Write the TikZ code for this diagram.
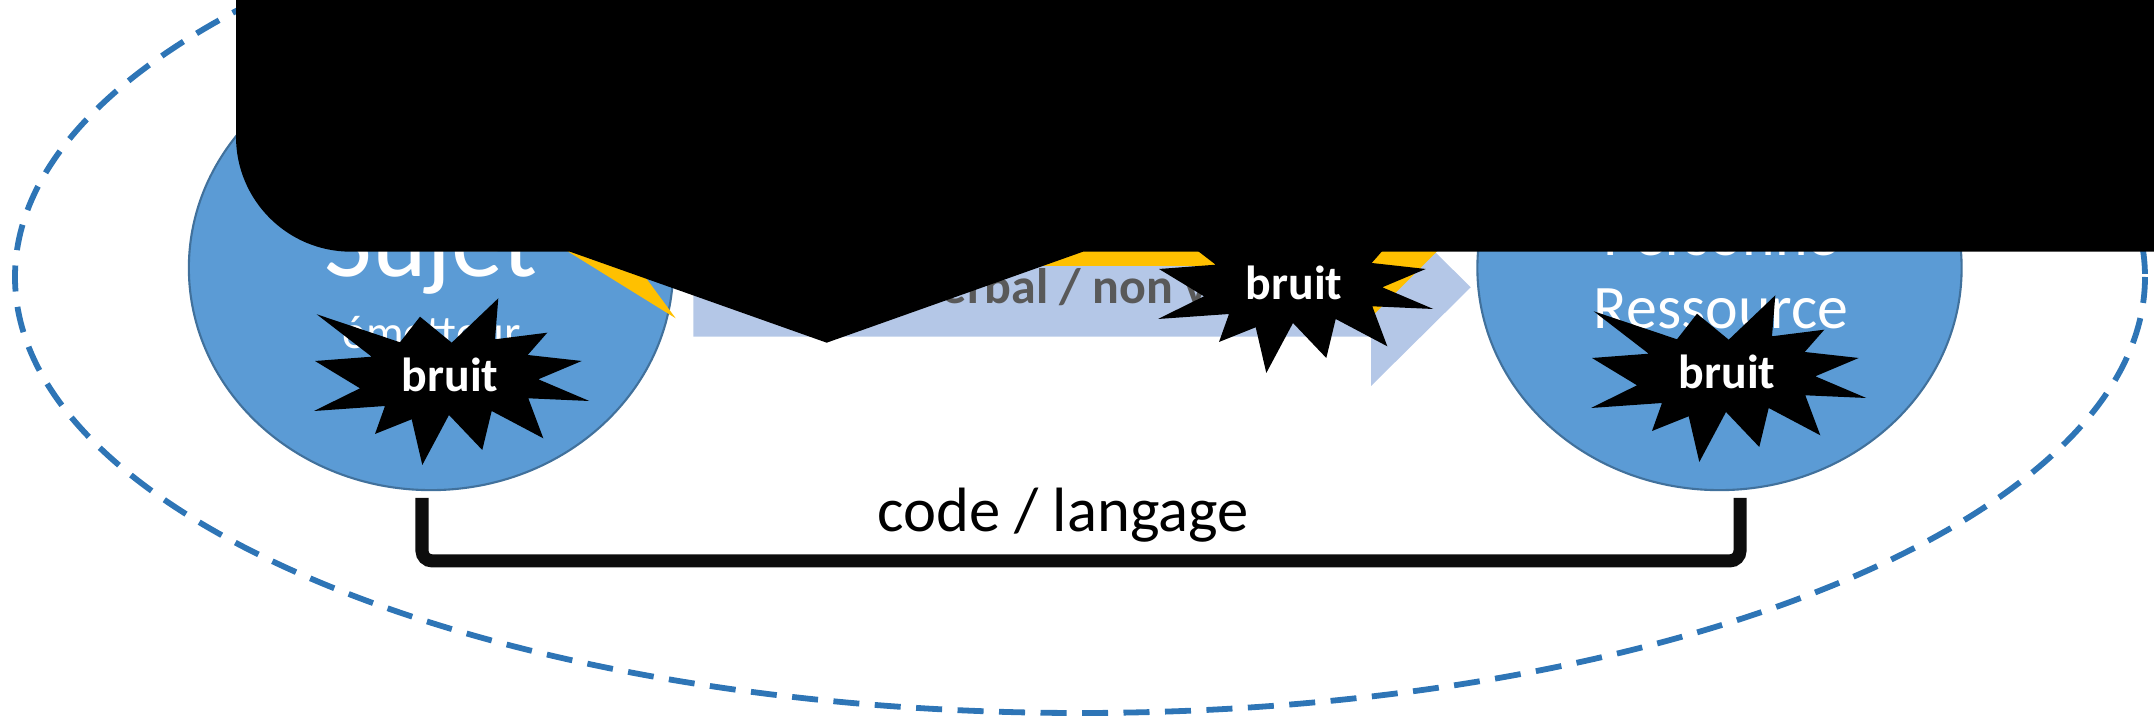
\documentclass[tikz,border=0pt]{standalone}
\usepackage{fontspec}
\setmainfont{Carlito}
\usetikzlibrary{shapes.geometric}

\definecolor{circblue}{HTML}{5B9BD5}
\definecolor{circedge}{HTML}{41719C}
\definecolor{ringblue}{HTML}{2E75B6}
\definecolor{arrowblue}{HTML}{B4C7E7}
\definecolor{boltyellow}{HTML}{FFC000}
\definecolor{labelgray}{HTML}{595959}
\definecolor{bracketblack}{HTML}{0D0D0D}

\tikzset{
  party/.style={ellipse, fill=circblue, draw=circedge, line width=0.6pt,
    minimum width=4.84cm, minimum height=4.44cm, inner sep=0pt},
  whitelbl/.style={inner sep=0pt, anchor=base, text=white},
  bursttext/.style={inner sep=0pt, anchor=base, text=white,
    font=\bfseries\fontsize{13.6}{16}\selectfont},
  % twelve-point explosion with its label
  burst/.pic={
    \fill[black] (498.3,298.3) -- (495,339.3) -- (547.3,332.7) -- (527.7,355)
      -- (581.7,361) -- (538.3,379.3) -- (589.3,401) -- (528.3,398.3)
      -- (543.3,438.3) -- (491.7,411) -- (482.3,450) -- (449,415)
      -- (422.3,465) -- (411.7,419.3) -- (375,434) -- (385,406)
      -- (314,411) -- (360,388.3) -- (315,361) -- (371.7,356.7)
      -- (316.7,314.3) -- (400,342.3) -- (420,316.7) -- (451.7,342.7) -- cycle;
    \node[bursttext] (-txt) at (450,391.7) {bruit};
  }
}

\begin{document}
\begin{tikzpicture}[x=0.01cm, y=-0.01cm]
\useasboundingbox (0,0) rectangle (2154,719);

% dashed boundary of the communication situation
\draw[ringblue, line width=1.65pt, dash pattern=on 7.4pt off 4.4pt]
  (1080,277) ellipse [x radius=1065, y radius=436];

% the two parties
\node[party] (sender) at (431,268) {};
\node[party] (receiver) at (1719.5,268) {};
\node[whitelbl, font=\fontsize{29.6}{35}\selectfont] (sujet) at (431,277) {Sujet};
\node[whitelbl, font=\fontsize{13.4}{16}\selectfont] (emet) at (431.7,348.3) {émetteur};
\node[whitelbl, font=\fontsize{17.6}{21}\selectfont] (pers) at (1721,256) {Personne};
\node[whitelbl, font=\fontsize{17.6}{21}\selectfont] (ress) at (1721,329) {Ressource};

% channel arrow
\fill[arrowblue] (693.3,238) -- (1371,238) -- (1371,188.6) -- (1470.7,287.3)
  -- (1371,386) -- (1371,336.7) -- (693.3,336.7) -- cycle;
\node[inner sep=0pt, anchor=base west, text=labelgray,
  font=\bfseries\fontsize{14.2}{17}\selectfont] (canal) at (918,303.3) {verbal / non verbal};

% lightning bolt
\fill[boltyellow] (675.7,318.3) -- (500,209.4) -- (540,150) -- (1500,150)
  -- (1460,228.4) -- (1370,318.4) -- (1300,266) -- (1000,266)
  -- (601.7,218) -- cycle;

% noise bursts
\pic (noiseA) at (0,0) {burst};
\pic (noiseB) at (844,-92) {burst};
\pic (noiseC) at (1277,-3) {burst};

% shared code bracket
\draw[bracketblack, line width=3.7pt, rounded corners=0.1cm]
  ([shift={(-9,6.7)}]sender.south) -- ++(0,63) -| ([shift={(20.5,6.7)}]receiver.south);
\node[inner sep=0pt, anchor=base, font=\fontsize{17.8}{21}\selectfont] (code) at (1063,532) {code / langage};

% black callout
\fill[black] (236,-60) -- (236,136.7) arc[start angle=180, end angle=90, radius=115]
  -- (570,251.7) -- (826.7,342.7) -- (1083,251.7) -- (2150,251.7)
  arc[start angle=90, end angle=0, radius=115] -- (2265,-60) -- cycle;
\end{tikzpicture}
\end{document}
